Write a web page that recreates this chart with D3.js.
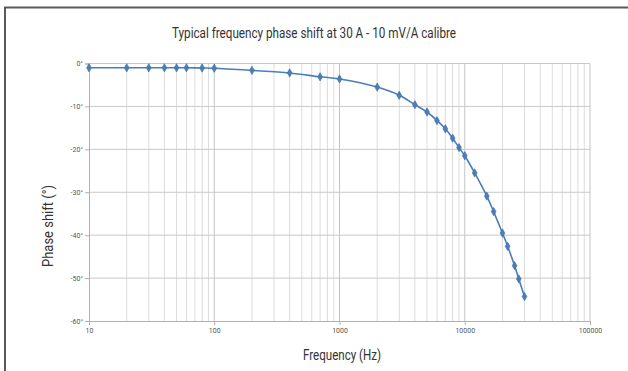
<!DOCTYPE html>
<html>
<head>
<meta charset="utf-8">
<script src="https://cdn.jsdelivr.net/npm/d3@7"></script>
<style>
  html, body { margin: 0; padding: 0; background: #fff; }
  svg { display: block; }
  .narrow { font-family: "Roboto", "Liberation Sans", sans-serif; }
</style>
</head>
<body>
<svg id="chart" width="628" height="371"></svg>
<script>
// Measured phase shift versus frequency for the 10 mV/A calibre at 30 A
const frequencies = [10, 20, 30, 40, 50, 60, 80, 100, 200, 400, 700, 1000, 2000, 3000, 4000, 5000, 6000, 7000, 8000, 9000, 10000, 12000, 15000, 17000, 20000, 22000, 25000, 27000, 30000];
const phaseShift = [-1.0, -1.0, -1.0, -1.0, -1.0, -1.0, -1.05, -1.1, -1.6, -2.2, -3.1, -3.6, -5.5, -7.4, -9.6, -11.3, -13.3, -15.2, -17.4, -19.6, -21.5, -25.5, -30.9, -34.5, -39.5, -42.6, -47.1, -50.2, -54.3];
const yTicks = [0, -10, -20, -30, -40, -50, -60];
const xTicks = [10, 100, 1000, 10000, 100000];

const svg = d3.select("#chart");
const W = 628, H = 371;
const plot = { left: 89, right: 590, top: 63.5, bottom: 321 };

// Outer frame (left and top edges)
svg.append("path")
  .attr("d", `M5,${H} L5,7.5 L${W},7.5`)
  .attr("fill", "none")
  .attr("stroke", "#5a5a5a")
  .attr("stroke-width", 2);

const x = d3.scaleLog().domain([10, 100000]).range([plot.left, plot.right]);
const y = d3.scaleLinear().domain([-60, 0]).range([plot.bottom, plot.top]);

// Minor log gridlines (2..9 within each decade)
const minor = [];
for (let d = 10; d < 100000; d *= 10) {
  for (let k = 2; k <= 9; k++) minor.push(d * k);
}
svg.append("g").selectAll("line").data(minor).join("line")
  .attr("x1", d => x(d)).attr("x2", d => x(d))
  .attr("y1", plot.top).attr("y2", plot.bottom)
  .attr("stroke", "#dcdcdc").attr("stroke-width", 1);

// Major decade gridlines
svg.append("g").selectAll("line").data(xTicks.slice(1)).join("line")
  .attr("x1", d => x(d)).attr("x2", d => x(d))
  .attr("y1", plot.top).attr("y2", plot.bottom)
  .attr("stroke", "#c4c4c4").attr("stroke-width", 1);

// Horizontal gridlines
svg.append("g").selectAll("line").data(yTicks.filter(v => v !== -60)).join("line")
  .attr("x1", plot.left).attr("x2", plot.right)
  .attr("y1", d => y(d)).attr("y2", d => y(d))
  .attr("stroke", "#c8c8c8").attr("stroke-width", 1);

// Axes
const xAxis = svg.append("g")
  .attr("transform", `translate(0,${plot.bottom})`)
  .call(d3.axisBottom(x).tickValues(xTicks).tickFormat(d3.format("d")).tickSize(4).tickPadding(3));
const yAxis = svg.append("g")
  .attr("transform", `translate(${plot.left},0)`)
  .call(d3.axisLeft(y).tickValues(yTicks).tickFormat(d => d + "°").tickSize(4).tickPadding(2));

[xAxis, yAxis].forEach(g => {
  g.select(".domain").attr("stroke", "#b0b0b0");
  g.selectAll(".tick line").attr("stroke", "#b0b0b0");
  g.selectAll(".tick text")
    .attr("fill", "#555")
    .style("font-family", "'Roboto', sans-serif")
    .style("font-size", "7px");
});

// Curve
const pts = frequencies.map((f, i) => [f, phaseShift[i]]);
const line = d3.line().x(d => x(d[0])).y(d => y(d[1])).curve(d3.curveCatmullRom.alpha(0.5));
svg.append("path")
  .datum(pts)
  .attr("d", line)
  .attr("fill", "none")
  .attr("stroke", "#4a7ebb")
  .attr("stroke-width", 1.6);

// Diamond markers
const diamond = d3.symbol().type(d3.symbolDiamond).size(20);
svg.append("g").selectAll("path").data(pts).join("path")
  .attr("transform", d => `translate(${x(d[0])},${y(d[1])})`)
  .attr("d", diamond)
  .attr("fill", "#4a7ebb")
  .attr("stroke", "#41719c")
  .attr("stroke-width", 0.6);

// Titles (condensed to the narrow face of the layout)
svg.append("text")
  .attr("class", "narrow")
  .attr("x", 314).attr("y", 38)
  .attr("text-anchor", "middle")
  .attr("font-size", 14)
  .attr("textLength", 284)
  .attr("lengthAdjust", "spacingAndGlyphs")
  .attr("fill", "#333")
  .text("Typical frequency phase shift at 30 A - 10 mV/A calibre");

svg.append("text")
  .attr("class", "narrow")
  .attr("transform", `translate(53,226) rotate(-90)`)
  .attr("text-anchor", "middle")
  .attr("font-size", 14)
  .attr("textLength", 82)
  .attr("lengthAdjust", "spacingAndGlyphs")
  .attr("fill", "#333")
  .text("Phase shift (°)");

svg.append("text")
  .attr("class", "narrow")
  .attr("x", 342).attr("y", 360)
  .attr("text-anchor", "middle")
  .attr("font-size", 14)
  .attr("textLength", 78)
  .attr("lengthAdjust", "spacingAndGlyphs")
  .attr("fill", "#333")
  .text("Frequency (Hz)");
</script>
</body>
</html>
